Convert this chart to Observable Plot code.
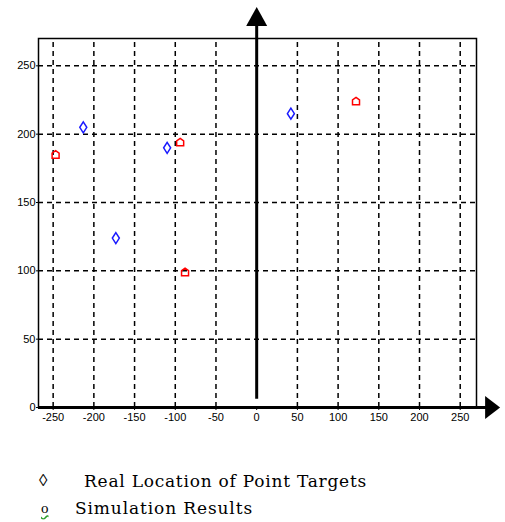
<!DOCTYPE html>
<html><head><meta charset="utf-8">
<script src="https://cdn.jsdelivr.net/npm/d3@7"></script>
<script src="https://cdn.jsdelivr.net/npm/@observablehq/plot@0.6"></script>
<style>
body{margin:0;background:#fff;}
#chart{width:505px;height:450px;}
#legend{position:relative;width:505px;height:72px;font-family:"DejaVu Serif","Liberation Serif",serif;font-size:17px;color:#000;}
#legend span{position:absolute;white-space:nowrap;line-height:20px;}
</style></head><body>
<div id="chart"></div>
<div id="legend"></div>
<script>
// Data
const realX = [-213, -110, -173, 42];
const realY = [205, 190, 124, 215];
const simX = [-247, -94, -88, 122];
const simY = [185, 194, 99, 224];
const xTicks = [-250, -200, -150, -100, -50, 0, 50, 100, 150, 200, 250];
const yTicks = [0, 50, 100, 150, 200, 250];
const xDomain = [-268, 270];
const yDomain = [0, 270];
const legendLabels = ["Real Location of Point Targets", "Simulation Results"];
const arrowUpTip = [{x: 0, y: 293}];
const arrowRightTip = [{x: 299, y: 0}];

const real = realX.map((x, i) => ({x, y: realY[i]}));
const sim = simX.map((x, i) => ({x, y: simY[i]}));

const diamondSym = {draw(c) { c.moveTo(0,-5.5); c.lineTo(3.5,0); c.lineTo(0,5.5); c.lineTo(-3.5,0); c.closePath(); }};
const houseSym = {draw(c) { c.moveTo(0,-4); c.lineTo(3.5,-1.5); c.lineTo(3.5,3.5); c.lineTo(-3.5,3.5); c.lineTo(-3.5,-1.5); c.closePath(); }};
const headUp = {draw(c) { c.moveTo(0,0); c.lineTo(-10.5,19); c.lineTo(10.5,19); c.closePath(); }};
const headRight = {draw(c) { c.moveTo(0,0); c.lineTo(-11.5,15); c.lineTo(11.5,15); c.closePath(); }};

const font = '"Liberation Sans", Arial, sans-serif';
const grid = {stroke: "#000", strokeWidth: 1.5, strokeDasharray: "5,4", strokeOpacity: 1};

const chart = Plot.plot({
  width: 505, height: 450,
  marginLeft: 38, marginRight: 29, marginTop: 38, marginBottom: 43,
  style: {fontFamily: font, fontSize: "11px", color: "#000", background: "#fff"},
  x: {domain: xDomain},
  y: {domain: yDomain},
  marks: [
    Plot.ruleX(xTicks.filter(d => d !== 0), {y1: yDomain[0], y2: yDomain[1], ...grid}),
    Plot.ruleY(yTicks.filter(d => d > 0), {x1: xDomain[0], x2: xDomain[1], ...grid}),
    Plot.frame({stroke: "#000", strokeWidth: 1.5}),
    Plot.axisX({ticks: xTicks, tickSize: 3, tickPadding: 3, tickFormat: d => String(d), label: null, fontSize: 11}),
    Plot.axisY({ticks: yTicks, tickSize: 2, tickPadding: 1, tickFormat: d => String(d), label: null, fontSize: 11}),
    Plot.ruleX([0], {y1: 6, y2: 280, stroke: "#000", strokeWidth: 3}),
    Plot.dot(arrowUpTip, {x: "x", y: "y", symbol: headUp, fill: "#000", stroke: null, r: 5}),
    Plot.ruleY([0], {x1: xDomain[0], x2: 285, stroke: "#000", strokeWidth: 3}),
    Plot.dot(arrowRightTip, {x: "x", y: "y", symbol: headRight, rotate: 90, fill: "#000", stroke: null, r: 5}),
    Plot.dot(real, {x: "x", y: "y", symbol: diamondSym, stroke: "#1a1aff", strokeWidth: 1.5, fill: "none", r: 4}),
    Plot.dot(sim, {x: "x", y: "y", symbol: houseSym, stroke: "#ff0000", strokeWidth: 1.5, fill: "none", r: 4})
  ]
});
document.getElementById("chart").appendChild(chart);

const lg = document.getElementById("legend");
lg.innerHTML = `
<span style="left:39px;top:21px;font-family:'Liberation Serif',serif;">◊</span>
<span id="l1" style="left:84px;top:21px;">${legendLabels[0]}</span>
<span style="left:41px;top:48px;font-size:15px;font-family:'Liberation Serif',serif;text-decoration:underline wavy #2a9d2a;">o</span>
<span id="l2" style="left:75px;top:48px;">${legendLabels[1]}</span>`;
// fit legend text widths to the reference extents
const fit = (id, w) => { const el = document.getElementById(id); const cur = el.getBoundingClientRect().width; const n = el.textContent.length; el.style.letterSpacing = ((w - cur) / n) + "px"; };
fit("l1", 283);
fit("l2", 178);
</script>
</body></html>
